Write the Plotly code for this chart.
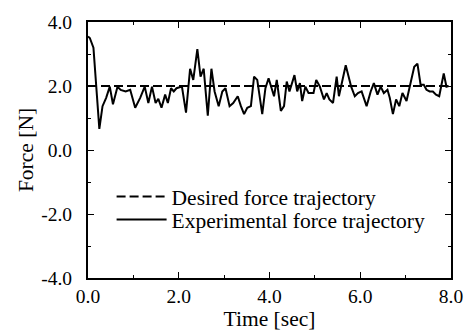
import plotly.graph_objects as go

# Desired force trajectory
desired_t = [0.0, 8.0]
desired_f = [2.0, 2.0]

# Experimental force trajectory
exp_t = [0.0, 0.04, 0.12, 0.25, 0.32, 0.40, 0.48, 0.55, 0.65, 0.72, 0.83, 0.93, 1.04, 1.15,
         1.25, 1.33, 1.41, 1.49, 1.55, 1.62, 1.70, 1.76, 1.83, 1.89, 1.95, 2.07, 2.16, 2.25,
         2.32, 2.41, 2.48, 2.55, 2.59, 2.64, 2.72, 2.79, 2.88, 2.96, 3.03, 3.12, 3.20, 3.30,
         3.37, 3.44, 3.51, 3.59, 3.66, 3.73, 3.84, 3.91, 3.98, 4.04, 4.10, 4.16, 4.25, 4.32,
         4.38, 4.44, 4.50, 4.55, 4.61, 4.67, 4.72, 4.79, 4.86, 4.97, 5.03, 5.11, 5.20, 5.26,
         5.32, 5.40, 5.48, 5.53, 5.68, 5.80, 5.88, 5.95, 6.03, 6.14, 6.23, 6.30, 6.38, 6.45,
         6.52, 6.60, 6.65, 6.72, 6.79, 6.86, 6.93, 7.02, 7.10, 7.19, 7.26, 7.33, 7.40, 7.46,
         7.53, 7.60, 7.67, 7.74, 7.84, 7.90, 7.95]
exp_f = [3.55, 3.50, 3.20, 0.66, 1.37, 1.63, 1.98, 1.43, 1.98, 1.88, 1.83, 1.88, 1.32, 1.63,
         1.98, 1.47, 1.98, 1.47, 1.60, 1.32, 1.73, 1.47, 1.93, 1.83, 1.93, 1.98, 1.17, 2.54,
         2.19, 3.15, 2.29, 2.54, 1.88, 1.07, 2.54, 1.83, 1.37, 1.83, 1.93, 1.37, 1.47, 1.68,
         1.37, 1.12, 1.32, 1.37, 2.29, 2.19, 1.12, 1.93, 2.24, 1.93, 1.68, 2.19, 1.22, 1.37,
         2.14, 1.83, 2.09, 2.34, 1.83, 2.09, 1.53, 1.98, 1.78, 1.78, 2.19, 1.98, 1.58, 1.78,
         1.58, 1.47, 2.29, 1.68, 2.65, 1.98, 1.68, 1.78, 1.83, 1.37, 1.83, 2.09, 1.73, 1.98,
         1.78, 1.88, 1.63, 1.12, 1.58, 1.37, 1.78, 1.53, 2.04, 2.60, 2.70, 2.04, 2.04, 1.88,
         1.83, 1.83, 1.73, 1.68, 2.39, 1.98, 2.00]

x_ticks = [0, 2, 4, 6, 8]
x_labels = ["0.0", "2.0", "4.0", "6.0", "8.0"]
y_ticks = [-4, -2, 0, 2, 4]
y_labels = ["-4.0", "-2.0", "0.0", "2.0", "4.0"]

FONT = "Liberation Serif, Times New Roman, serif"

fig = go.Figure()
fig.add_trace(go.Scatter(x=desired_t, y=desired_f, mode="lines",
                         line=dict(color="black", width=2, dash="9px,4px"),
                         name="Desired force trajectory", legend="legend"))
fig.add_trace(go.Scatter(x=exp_t, y=exp_f, mode="lines",
                         line=dict(color="black", width=2),
                         name="Experimental force trajectory", legend="legend2"))

axis_common = dict(showgrid=False, zeroline=False, showline=True, linecolor="black",
                   linewidth=2, mirror="ticks", ticks="inside", ticklen=6, tickwidth=1,
                   tickcolor="black", tickfont=dict(family=FONT, size=19.5, color="black"),
                   minor=dict(ticks="inside", ticklen=3, dtick=1, tickwidth=1, tickcolor="black"))

fig.update_xaxes(range=[0, 8], tickvals=x_ticks, ticktext=x_labels,
                 title=dict(text="Time [sec]", font=dict(family=FONT, size=21.5, color="black"),
                            standoff=0),
                 **axis_common)
fig.update_yaxes(range=[-4, 4], tickvals=y_ticks, ticktext=y_labels,
                 title=dict(text="Force [N]", font=dict(family=FONT, size=21.5, color="black"),
                            standoff=2),
                 ticklabelstandoff=10,
                 **axis_common)

legend_common = dict(xanchor="left", yanchor="middle", bgcolor="rgba(0,0,0,0)",
                     itemwidth=50, font=dict(family=FONT, size=21.5, color="black"))

fig.update_layout(
    width=475, height=334,
    margin=dict(l=88, r=19, t=18, b=54),
    paper_bgcolor="white", plot_bgcolor="white",
    showlegend=True,
    legend=dict(x=0.065, y=0.318, **legend_common),
    legend2=dict(x=0.065, y=0.228, **legend_common),
)

fig.write_html("out.html")
